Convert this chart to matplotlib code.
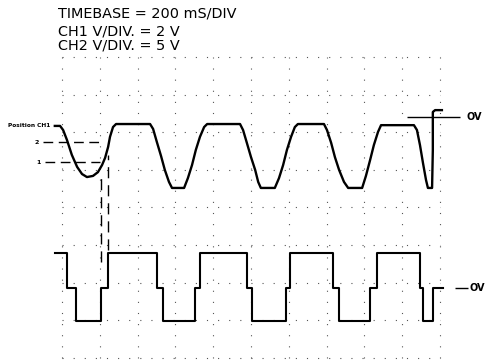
import numpy as np
import matplotlib
matplotlib.use('Agg')
import matplotlib.pyplot as plt

# Everything is in screen divisions (10 x 8 graticule)
# CH1 trace: (time div, vertical div)
ch1_t = [-0.19, -0.05, 0.03, 0.13, 0.26, 0.40, 0.53, 0.66, 0.82, 0.95, 1.06, 1.14, 1.22, 1.27, 1.35, 1.43, 2.33,
         2.41, 2.51, 2.62, 2.72, 2.83, 2.91, 3.23, 3.33, 3.44, 3.54, 3.65, 3.76, 3.84, 4.71,
         4.79, 4.89, 5.00, 5.11, 5.19, 5.26, 5.63, 5.74, 5.85, 5.95, 6.06, 6.16, 6.24, 6.93,
         7.01, 7.12, 7.22, 7.33, 7.46, 7.57, 7.94, 8.04, 8.15, 8.25, 8.36, 8.44, 9.31,
         9.39, 9.47, 9.55, 9.63, 9.68, 9.79, 9.81, 9.81, 9.87, 10.05]
ch1_v = [2.17, 2.17, 2.06, 1.80, 1.40, 1.08, 0.89, 0.81, 0.84, 0.94, 1.13, 1.32, 1.61, 1.88, 2.14, 2.22, 2.22,
         2.09, 1.74, 1.37, 1.00, 0.68, 0.52, 0.52, 0.78, 1.13, 1.53, 1.88, 2.14, 2.22, 2.22,
         2.06, 1.72, 1.34, 1.00, 0.68, 0.52, 0.52, 0.78, 1.13, 1.53, 1.88, 2.14, 2.22, 2.22,
         2.06, 1.72, 1.34, 1.00, 0.68, 0.52, 0.52, 0.84, 1.26, 1.66, 2.01, 2.19, 2.19,
         2.06, 1.66, 1.18, 0.73, 0.52, 0.52, 1.53, 2.54, 2.59, 2.59]

# CH2 trace: three-level square wave (steps)
ch2_t = [-0.19, 0.13, 0.37, 1.03, 1.22, 2.51, 2.67, 3.52, 3.65, 4.89, 5.03, 5.93, 6.03,
         7.17, 7.33, 8.15, 8.33, 9.47, 9.55, 9.81, 10.08]
ch2_v = [-1.21, -2.14, -3.02, -2.14, -1.21, -2.14, -3.02, -2.14, -1.21, -2.14, -3.02, -2.14, -1.21,
         -2.14, -3.02, -2.14, -1.21, -2.14, -3.02, -2.14, -2.14]

# cursors
cursor_levels = [1.74, 1.21]
cursor_labels = ['2', '1']
cursor_start = [-0.50, -0.45]
cursor_end = 1.00
cursor_times = [1.22, 1.03]
cursor_tops = [1.40, 0.79]
cursor_bottoms = [-1.13, -1.45]

zero_ch1 = 2.41
zero_ch2 = -2.14

header = ['TIMEBASE = 200 mS/DIV', 'CH1 V/DIV. = 2 V', 'CH2 V/DIV. = 5 V']
header_y = [5.15, 4.69, 4.30]

fig = plt.figure(figsize=(4.87, 3.63), dpi=100)
ax = fig.add_axes([0, 0, 1, 1])
ax.set_xlim(-1.640, 11.243)
ax.set_ylim(-4.136, 5.519)
ax.axis('off')

# graticule, sparse dots like the photocopy
ax.vlines(np.arange(0, 11), -4, 4, colors='#555555', linewidth=0.8, linestyles=(0, (1, 9)))
ax.hlines(np.arange(-4, 5), 0, 10, colors='#555555', linewidth=0.8, linestyles=(0, (1, 9)))

ax.plot(ch1_t, ch1_v, color='black', linewidth=1.7, solid_joinstyle='round')
ax.plot(ch2_t, ch2_v, color='black', linewidth=1.5, drawstyle='steps-post')

# cursor lines
for lvl, lab, x0 in zip(cursor_levels, cursor_labels, cursor_start):
    ax.hlines(lvl, x0, cursor_end, colors='black', linewidth=1.0, linestyles=(0, (7, 4)))
    ax.text(x0 - 0.18, lvl, lab, fontsize=4.5, fontweight='bold', ha='center', va='center')
for t, top, bot in zip(cursor_times, cursor_tops, cursor_bottoms):
    ax.vlines(t, bot, top, colors='black', linewidth=1.0, linestyles=(0, (8, 5)))

ax.text(-0.30, 2.17, 'Position CH1', fontsize=4.2, fontweight='bold', ha='right', va='center')

# 0 V markers
ax.hlines(zero_ch1, 9.13, 10.53, colors='black', linewidth=1.0)
ax.text(10.71, zero_ch1, 'OV', fontsize=7, fontweight='bold', ha='left', va='center')
ax.hlines(zero_ch2, 10.40, 10.74, colors='black', linewidth=1.0)
ax.text(10.79, zero_ch2, 'OV', fontsize=7, fontweight='bold', ha='left', va='center')

for txt, y in zip(header, header_y):
    ax.text(-0.11, y, txt, fontsize=10.4, ha='left', va='center', family='DejaVu Sans')

fig.savefig('out.png', dpi=100)
